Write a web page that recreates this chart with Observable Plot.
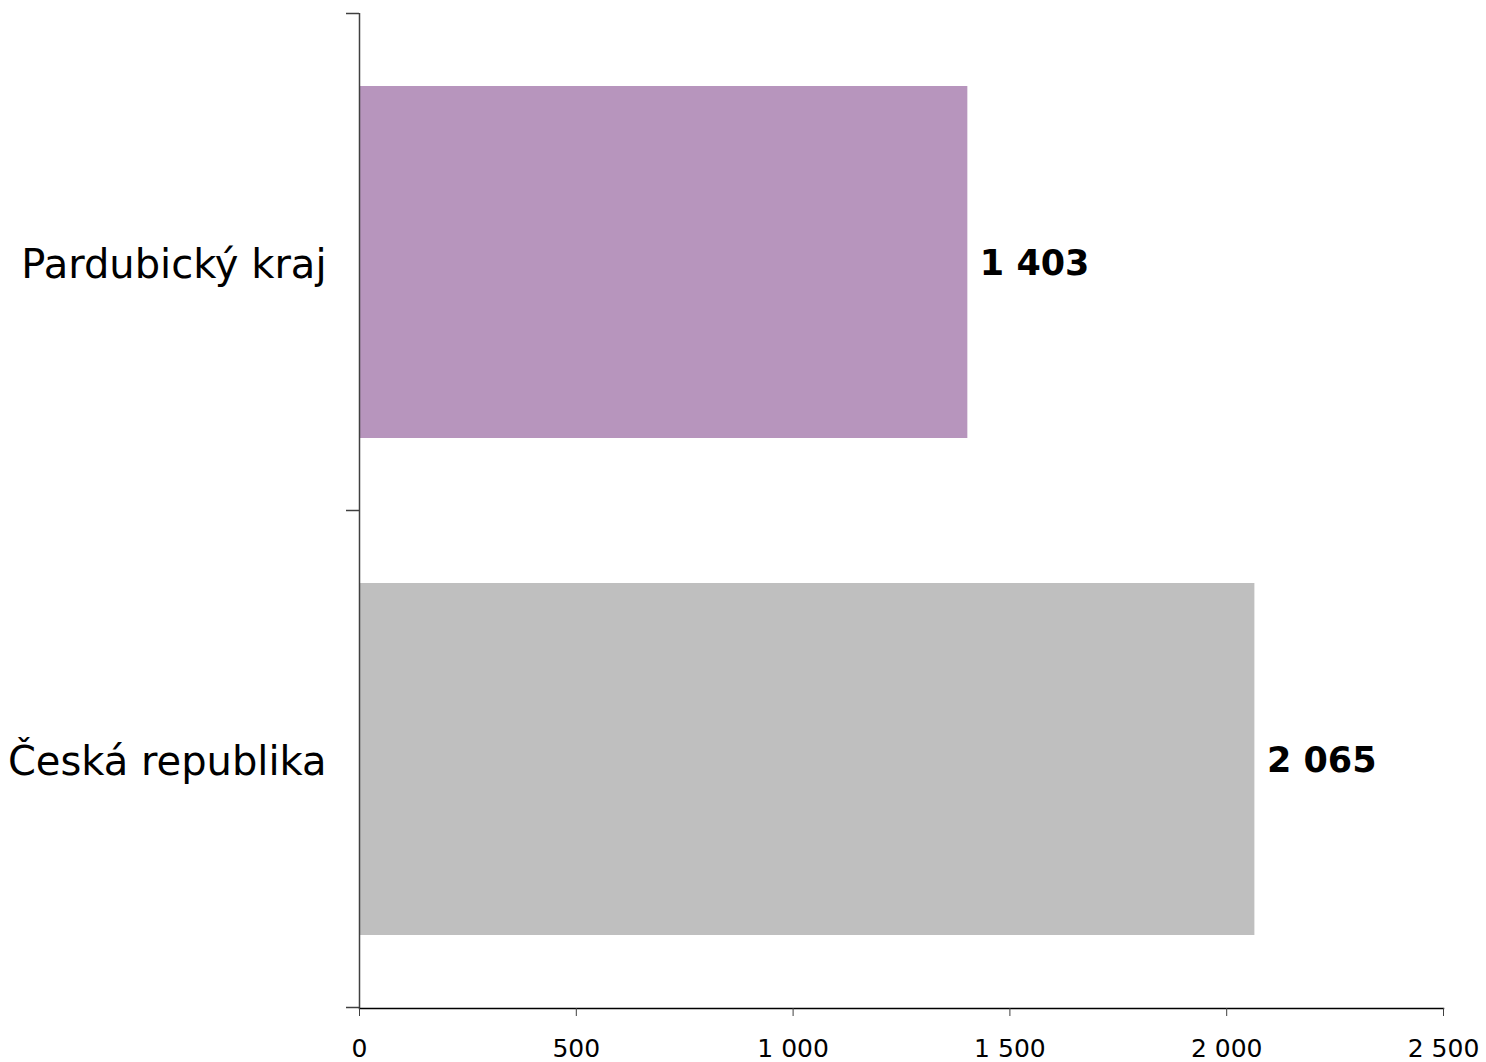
<!DOCTYPE html>
<html>
<head>
<meta charset="utf-8">
<script src="https://cdn.jsdelivr.net/npm/d3@7"></script>
<script src="https://cdn.jsdelivr.net/npm/@observablehq/plot@0.6"></script>
<style>
  html, body { margin: 0; padding: 0; background: #fff; }
  #chart { width: 1486px; height: 1062px; }
  svg { font-family: "DejaVu Sans", Verdana, sans-serif; }
</style>
</head>
<body>
<div id="chart"></div>
<script>
const categories = ["Pardubický kraj", "Česká republika"];
const values = [1403, 2065];
const barColors = ["#b795bd", "#bfbfbf"];
const xTicks = [0, 500, 1000, 1500, 2000, 2500];

const locale = d3.formatLocale({decimal: ",", thousands: "\u00a0", grouping: [3], currency: ["", " Kč"]});
const fmt = locale.format(",d");

const data = categories.map((c, i) => ({category: c, value: values[i], color: barColors[i]}));

const W = 1486, H = 1062;
const mL = 359, mR = 43, mT = 13, mB = 54;

const plot = Plot.plot({
  width: W,
  height: H,
  marginLeft: mL,
  marginRight: mR,
  marginTop: mT,
  marginBottom: mB,
  style: {fontFamily: "DejaVu Sans, Verdana, sans-serif", background: "#fff", overflow: "visible"},
  x: {domain: [0, 2500], ticks: xTicks, tickFormat: fmt, label: null},
  y: {domain: categories, paddingInner: 0.291, paddingOuter: 0.1455, label: null},
  marks: [
    Plot.barX(data, {x: "value", y: "category", fill: "color"}),
    Plot.text(data, {x: "value", y: "category", text: d => fmt(d.value), textAnchor: "start", dx: 12, dy: 1, fontSize: 35, fontWeight: "bold", fill: "#000"}),
    Plot.ruleX([0], {stroke: "#404040", strokeWidth: 1.5}),
    Plot.frame({anchor: "bottom", stroke: "#000", strokeWidth: 1.5}),
    Plot.axisX({ticks: xTicks, tickFormat: fmt, tickSize: 8, tickPadding: 23, fontSize: 25, stroke: "#404040", color: "#000", label: null}),
    Plot.axisY({tickSize: 0, tickPadding: 33, fontSize: 40, dy: 3, color: "#000", label: null})
  ]
});

document.getElementById("chart").appendChild(plot);

// category boundary ticks on the y axis, placed with the plot's own y scale
const ys = plot.scale("y");
const half = ys.step / 2;
const centers = ys.domain.map(d => ys.apply(d) + ys.bandwidth / 2);
const bounds = [centers[0] - half, ...centers.map(c => c + half)];
d3.select(plot).append("g")
  .selectAll("line").data(bounds).join("line")
  .attr("x1", mL - 13).attr("x2", mL)
  .attr("y1", d => d).attr("y2", d => d)
  .attr("stroke", "#404040").attr("stroke-width", 1.5);
</script>
</body>
</html>
